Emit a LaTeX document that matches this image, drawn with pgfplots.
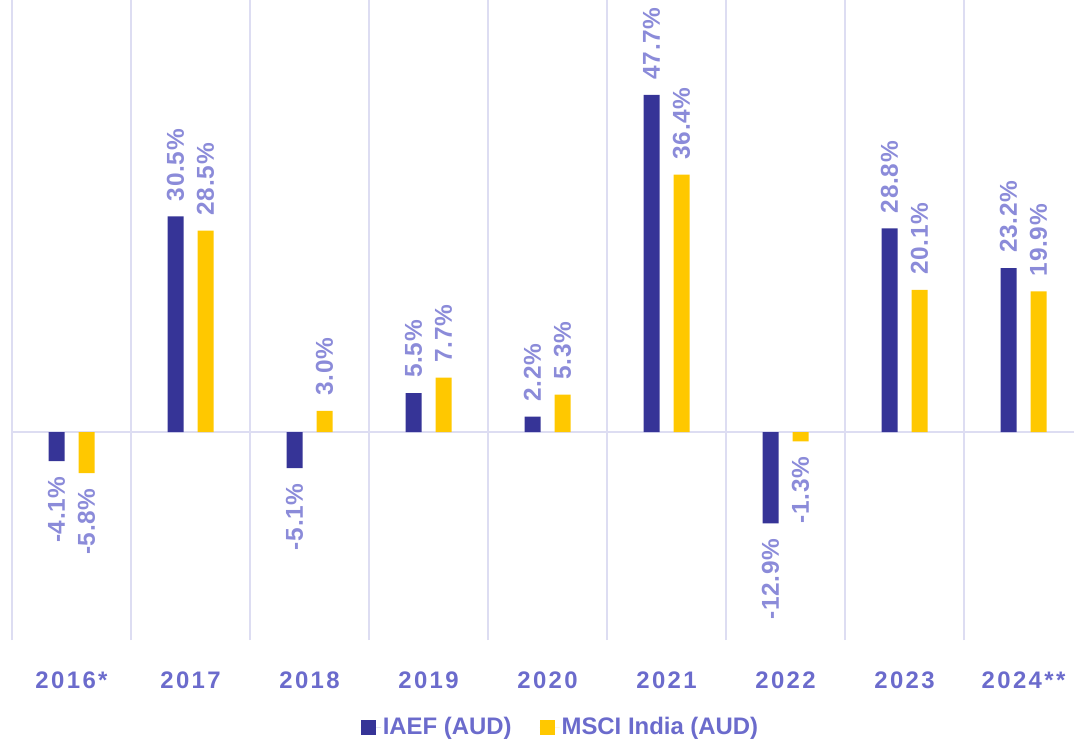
\documentclass[border=0pt]{standalone}
\usepackage{pgfplots}
\pgfplotsset{compat=1.18}
\usepackage{fontspec}
\setmainfont{Liberation Sans}
\newfontfamily\tickfont[LetterSpace=10]{Liberation Sans}
\newfontfamily\labfont[LetterSpace=3]{Liberation Sans}
\definecolor{iaef}{HTML}{363497}
\definecolor{msci}{HTML}{FFC800}
\definecolor{gridc}{HTML}{DDDDF2}
\definecolor{labelc}{HTML}{8B8BD9}
\definecolor{tickc}{HTML}{6B6BCC}
\begin{document}
\begin{tikzpicture}
\begin{axis}[
  scale only axis, width=1062bp, height=640bp,
  at={(0,0)}, anchor=south west,
  xmin=-0.5, xmax=8.424, ymin=-29.4, ymax=61.1,
  ybar, bar width=16bp,
  xtick={0,...,8},
  xticklabels={2016*,2017,2018,2019,2020,2021,2022,2023,2024**},
  minor xtick={-0.5,0.5,...,8.5},
  xminorgrids=true,
  minor grid style={draw=gridc, line width=1.6bp},
  ytick=\empty,
  extra y ticks={0}, extra y tick labels={},
  extra y tick style={grid=major, major grid style={draw=gridc, line width=1.6bp}},
  axis line style={draw=none},
  major tick length=0pt, minor tick length=0pt,
  tick style={draw=none},
  xticklabel style={font=\tickfont\bfseries\fontsize{24}{24}\selectfont, text=tickc, anchor=base, yshift=-48bp},
  /pgf/number format/assume math mode=true,
  nodes near coords={\rotatebox{90}{\pgfmathprintnumber[fixed,fixed zerofill,precision=1]{\pgfplotspointmeta}\%}},
  every node near coord/.append style={font=\labfont\bfseries\fontsize{24.5}{24.5}\selectfont, text=labelc, inner xsep=0pt, inner ysep=15bp},
  legend style={at={(0.5165,-0.136)}, anchor=center, draw=none, fill=none,
    font=\bfseries\fontsize{24}{24}\selectfont, text=tickc,
    /tikz/every even column/.append style={column sep=26bp},
    cells={anchor=west}},
  legend columns=2,
]
\addplot[fill=iaef, draw=none, bar shift=-15bp,
  legend image code/.code={\fill[iaef] (0bp,-7.5bp) rectangle (15bp,7.5bp); \path (0bp,0bp) -- (20bp,0bp);}]
  coordinates {(0,-4.1) (1,30.5) (2,-5.1) (3,5.5) (4,2.2) (5,47.7) (6,-12.9) (7,28.8) (8,23.2)};
\addplot[fill=msci, draw=none, bar shift=15bp,
  legend image code/.code={\fill[msci] (0bp,-7.5bp) rectangle (15bp,7.5bp); \path (0bp,0bp) -- (20bp,0bp);}]
  coordinates {(0,-5.8) (1,28.5) (2,3.0) (3,7.7) (4,5.3) (5,36.4) (6,-1.3) (7,20.1) (8,19.9)};
\legend{IAEF (AUD), MSCI India (AUD)}
\end{axis}
\pgfresetboundingbox
\path (-12bp,-100bp) rectangle (1062bp,640bp);
\end{tikzpicture}
\end{document}
